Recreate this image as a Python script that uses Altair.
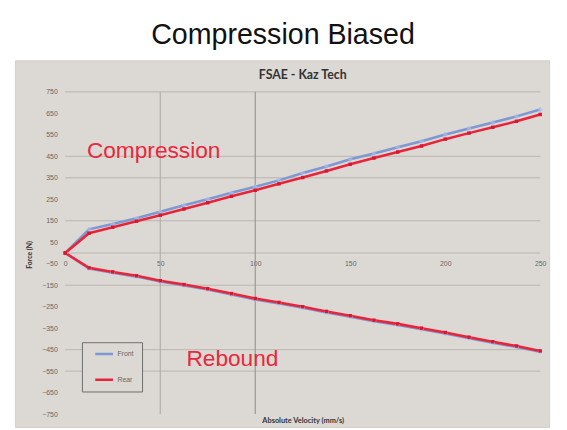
import altair as alt
import pandas as pd

# ---- data ----
velocity = [0, 12.5, 25, 37.5, 50, 62.5, 75, 87.5, 100, 112.5, 125,
            137.5, 150, 162.5, 175, 187.5, 200, 212.5, 225, 237.5, 250]
front_compression = [0, 110, 135, 162, 192, 222, 250, 280, 308, 338, 372,
                     403, 436, 463, 492, 520, 552, 580, 607, 636, 668]
rear_compression = [0, 92, 120, 148, 176, 205, 234, 264, 292, 322, 351,
                    382, 413, 442, 470, 498, 530, 558, 585, 613, 645]
front_rebound = [0, -72, -92, -110, -133, -151, -170, -193, -216, -235, -255,
                 -277, -297, -318, -335, -355, -375, -397, -418, -438, -460]
rear_rebound = [0, -69, -88, -106, -129, -147, -166, -189, -212, -230, -250,
                -272, -292, -313, -330, -350, -370, -392, -413, -433, -456]

series_names = ["Front", "Rear"]
series_colors = ["#7d98d2", "#e8243b"]
marker_colors = ["#a9c1ec", "#d8162e"]

x_tick_values = [0, 50, 100, 150, 200, 250]
y_tick_values = [750, 650, 550, 450, 350, 250, 150, 50, -50, -150, -250,
                 -350, -450, -550, -650, -750]
grid_y = [750, 450, 350, 150, 0, -150, -450, -550]
grid_x = [50, 100]

note_text = ["Compression", "Rebound"]
note_x = [11.4, 63.8]
note_y = [442, -527]

subtitle_text = ["FSAE - Kaz Tech"]
subtitle_x = [125]
subtitle_y = [826]

# ---- tables ----
rows = []
for name, comp, reb in [("Front", front_compression, front_rebound),
                        ("Rear", rear_compression, rear_rebound)]:
    for v, f in zip(velocity, comp):
        rows.append({"series": name, "branch": "Compression", "velocity": v, "force": f})
    for v, f in zip(velocity, reb):
        rows.append({"series": name, "branch": "Rebound", "velocity": v, "force": f})
df = pd.DataFrame(rows)

hgrid = pd.DataFrame({"y": grid_y, "x0": [0] * len(grid_y), "x1": [250] * len(grid_y)})
vgrid = pd.DataFrame({"x": grid_x, "y0": [-750] * len(grid_x), "y1": [750] * len(grid_x),
                      "c": ["#aaa7a2", "#8e8b87"]})
notes = pd.DataFrame({"text": note_text, "x": note_x, "y": note_y})
sub = pd.DataFrame({"text": subtitle_text, "x": subtitle_x, "y": subtitle_y})

xs = alt.Scale(domain=[-26.5, 254.7], nice=False, zero=False)
ys = alt.Scale(domain=[-810, 897], nice=False, zero=False)

FONT = "Liberation Sans"

x_axis = alt.Axis(values=x_tick_values, orient="bottom", offset=-177, domain=False,
                  ticks=False, grid=False, labelPadding=7, labelFontSize=7,
                  labelColor="#666666", labelFont=FONT, labelFlush=False,
                  labelOverlap=False, format="d",
                  title="Absolute Velocity (mm/s)", titleFont="Lato",
                  titleFontSize=7.5, titleFontWeight="bold", titleColor="#333333",
                  titleX=292, titleY=170, titleBaseline="middle", titleAlign="center")
y_axis = alt.Axis(values=y_tick_values, orient="left", domain=False, ticks=False,
                  grid=False, labelPadding=-43, labelAlign="right",
                  labelBaseline="middle", labelFontSize=7, labelColor="#666666",
                  labelFont=FONT, labelFlush=False, labelOverlap=False, format="d",
                  title="Force (N)", titleFont="Lato", titleFontSize=7,
                  titleFontWeight="bold", titleColor="#333333", titleX=15,
                  titleY=197, titleAngle=270, titleBaseline="middle",
                  titleAlign="center")

hgrid_layer = alt.Chart(hgrid).mark_rule(color="#b9b6b1", strokeWidth=1).encode(
    x=alt.X("x0:Q", scale=xs, axis=x_axis),
    x2="x1:Q",
    y=alt.Y("y:Q", scale=ys, axis=y_axis),
)

vgrid_layer = alt.Chart(vgrid).mark_rule(strokeWidth=1).encode(
    x=alt.X("x:Q", scale=xs, axis=x_axis),
    y=alt.Y("y0:Q", scale=ys, axis=y_axis),
    y2="y1:Q",
    color=alt.Color("c:N", scale=None),
)

lines = alt.Chart(df).mark_line(strokeWidth=2.6).encode(
    x=alt.X("velocity:Q", scale=xs, axis=x_axis),
    y=alt.Y("force:Q", scale=ys, axis=y_axis),
    color=alt.Color("series:N",
                    scale=alt.Scale(domain=series_names, range=series_colors),
                    legend=alt.Legend(title=None, orient="none", legendX=68,
                                      legendY=286, fillColor="#dcd9d4",
                                      strokeColor="#6e6e6e", padding=8,
                                      rowPadding=18, clipHeight=8,
                                      symbolType="stroke", symbolOffset=4,
                                      symbolStrokeWidth=2.5, symbolSize=324,
                                      labelFontSize=7, labelColor="#666666",
                                      labelFont=FONT, labelOffset=3)),
    detail="branch:N",
    order="velocity:Q",
)

front_pts = alt.Chart(df[df.series == "Front"]).mark_point(
    shape="cross", filled=True, size=22, color=marker_colors[0]).encode(
    x=alt.X("velocity:Q", scale=xs, axis=x_axis),
    y=alt.Y("force:Q", scale=ys, axis=y_axis),
)
rear_pts = alt.Chart(df[df.series == "Rear"]).mark_point(
    shape="square", filled=True, size=12, color=marker_colors[1], opacity=1).encode(
    x=alt.X("velocity:Q", scale=xs, axis=x_axis),
    y=alt.Y("force:Q", scale=ys, axis=y_axis),
)

note_layer = alt.Chart(notes).mark_text(
    align="left", baseline="alphabetic", fontSize=23, font=FONT,
    color="#e8283c").encode(
    x=alt.X("x:Q", scale=xs, axis=x_axis),
    y=alt.Y("y:Q", scale=ys, axis=y_axis),
    text="text:N",
)

sub_layer = alt.Chart(sub).mark_text(
    align="center", baseline="middle", fontSize=12.5, font="Lato",
    fontWeight="bold", color="#333333").encode(
    x=alt.X("x:Q", scale=xs, axis=x_axis),
    y=alt.Y("y:Q", scale=ys, axis=y_axis),
    text="text:N",
)

chart = alt.layer(
    hgrid_layer, vgrid_layer, lines, front_pts, rear_pts, note_layer, sub_layer
).properties(
    width=542,
    height=372,
    autosize="none",
    padding={"left": 7, "top": 50, "right": 10, "bottom": 0},
    background="white",
    title=alt.TitleParams("Compression Biased", fontSize=29, font=FONT,
                          fontWeight="normal", color="#111111", anchor="middle",
                          baseline="alphabetic", offset=15, dx=1, dy=27,
                          frame="group"),
).configure_view(
    fill="#dcd9d4", stroke="#d2cec8"
)

chart.save("out.html", embed_options={"renderer": "svg", "actions": False})
